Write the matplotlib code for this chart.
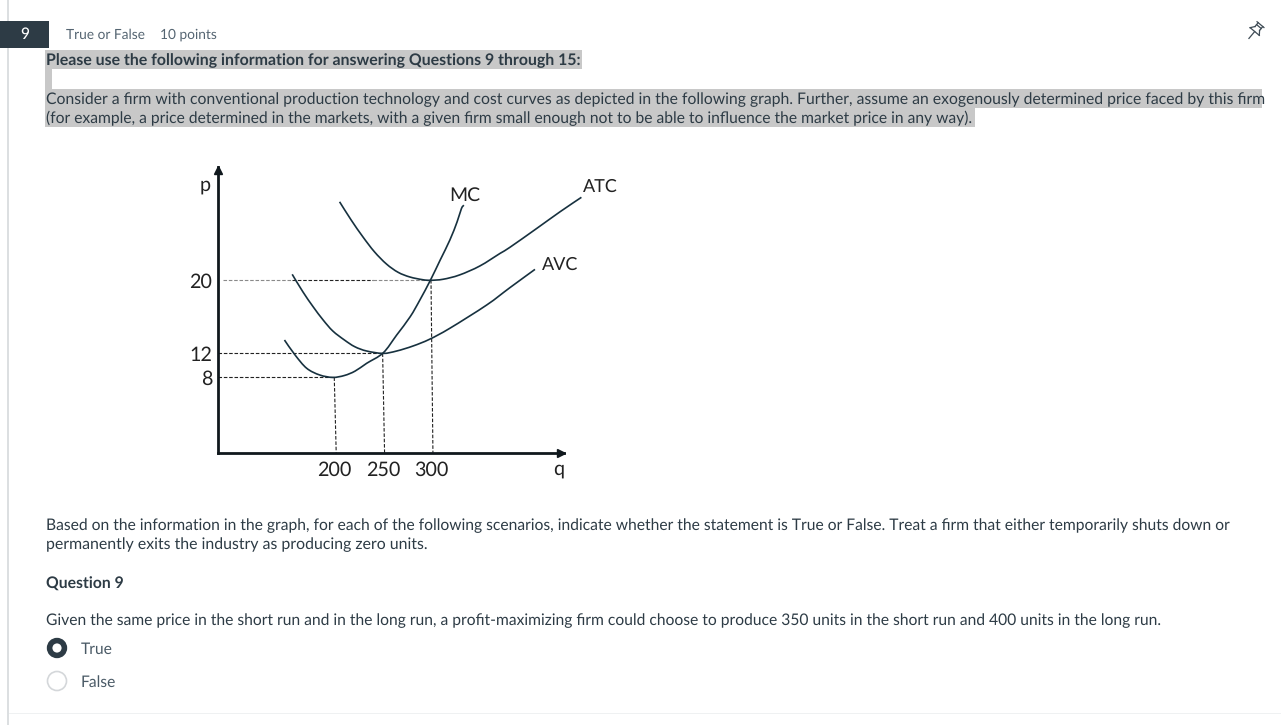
import numpy as np
import matplotlib
matplotlib.use("Agg")
import matplotlib.pyplot as plt
from matplotlib.patches import Rectangle, Circle, PathPatch
from matplotlib.path import Path
from matplotlib.transforms import IdentityTransform

# ---- chart data ----
atc_q = [205, 217, 229, 241, 253.5, 265.5, 277.6, 291, 299, 312, 329, 350, 371, 381, 409, 433, 455]
atc_p = [28.53, 26.54, 24.72, 23.08, 21.74, 20.84, 20.33, 20.03, 19.97, 20.08, 20.55, 21.53, 22.91, 23.56, 25.64, 27.45, 29.02]
avc_q = [156, 167, 177.6, 188, 198, 210, 220.7, 233, 250, 264, 281, 298, 319, 357, 381, 407]
avc_p = [20.62, 18.72, 17.09, 15.64, 14.44, 13.46, 12.73, 12.26, 12, 12.26, 12.81, 13.54, 14.74, 17.27, 19.16, 21.16]
mc_q = [148, 159, 171, 184.5, 198, 210, 221, 233, 250, 264, 278, 288, 299, 309, 319, 326.5, 331, 333.5]
mc_p = [13.46, 11.73, 9.52, 8.4, 8, 8.32, 9.05, 10.35, 12.05, 14, 16, 17.82, 20, 22.18, 24.36, 26.35, 27.8, 28.16]
q_ticks = [200, 250, 300]
p_ticks = [8, 12, 20]
q_tick_labels = ["200", "250", "300"]
p_tick_labels = ["8", "12", "20"]

# ---- page text ----
header_type = "True or False"
header_points = "10 points"
question_no = "9"
intro_bold = "Please use the following information for answering Questions 9 through 15:"
intro_1 = "Consider a ﬁrm with conventional production technology and cost curves as depicted in the following graph. Further, assume an exogenously determined price faced by this ﬁrm"
intro_2 = "(for example, a price determined in the markets, with a given ﬁrm small enough not to be able to inﬂuence the market price in any way)."
based_1 = "Based on the information in the graph, for each of the following scenarios, indicate whether the statement is True or False. Treat a ﬁrm that either temporarily shuts down or"
based_2 = "permanently exits the industry as producing zero units."
q_title = "Question 9"
q_text = "Given the same price in the short run and in the long run, a proﬁt-maximizing ﬁrm could choose to produce 350 units in the short run and 400 units in the long run."
options = ["True", "False"]

W, H = 1281, 725
plt.rcParams["font.family"] = ["Lato", "DejaVu Sans"]
plt.rcParams["text.hinting"] = "no_hinting"
fig = plt.figure(figsize=(W / 100, H / 100), dpi=100, facecolor="white")

page = fig.add_axes([0, 0, 1, 1])
page.set_xlim(0, W)
page.set_ylim(H, 0)
page.axis("off")

DARK = "#2d3b45"
HL = "#c8c8c8"
FS = 11.25

# frame rules
page.add_patch(Rectangle((7, 0), 2, H, fc="#dcdfe1", ec="none"))
page.add_patch(Rectangle((9, 713), W - 9, 1, fc="#eff1f2", ec="none"))
# header
page.add_patch(Rectangle((0, 21), 49, 27, fc=DARK, ec="none"))
page.text(25, 39, question_no, color="white", fontsize=11.2, ha="center", va="baseline", fontweight="medium")
page.text(65.5, 38.5, header_type, color="#556572", fontsize=9.9, va="baseline")
page.text(160, 38.5, header_points, color="#556572", fontsize=9.9, va="baseline")
# highlights
for x, y, w, h in [(45, 50, 537, 19), (45, 69, 7, 20), (45, 89, 1217, 19), (45, 108, 930, 19)]:
    page.add_patch(Rectangle((x, y), w, h, fc=HL, ec="none"))
# body
page.text(46, 65, intro_bold, color=DARK, fontsize=11.43, fontweight="bold", va="baseline")
page.text(46, 104, intro_1, color=DARK, fontsize=11.31, va="baseline")
page.text(46, 123, intro_2, color=DARK, fontsize=11.26, va="baseline")
page.text(46, 530, based_1, color=DARK, fontsize=11.29, va="baseline")
page.text(46, 549, based_2, color=DARK, fontsize=11.4, va="baseline")
page.text(46, 588.5, q_title, color=DARK, fontsize=11.3, fontweight="bold", va="baseline")
page.text(46, 625.5, q_text, color=DARK, fontsize=11.26, va="baseline")
page.text(81, 654, options[0], color="#4a5a66", fontsize=FS, va="baseline")
page.text(81, 687, options[1], color="#4a5a66", fontsize=FS, va="baseline")
# radios
page.add_patch(Circle((57, 648), 7.4, fc="white", ec=DARK, lw=4.0))
page.add_patch(Circle((57, 681), 9.5, fc="white", ec="#d4d7da", lw=1.2))
# pin icon
pin_ang = np.deg2rad(40)
def pin(u, v):
    return (1256 + u * np.cos(pin_ang) - v * np.sin(pin_ang),
            30 + u * np.sin(pin_ang) + v * np.cos(pin_ang))
for seg in [[(-4.5, -7), (4.5, -7)], [(-3, -7), (-3, -2)], [(3, -7), (3, -2)], [(-3, -2), (-6, 2)],
            [(3, -2), (6, 2)], [(-6, 2), (6, 2)], [(0, 2), (0, 11)], [(-3, -4.5), (3, -4.5)]]:
    xs, ys = zip(*[pin(*s) for s in seg])
    page.plot(xs, ys, color="#3f4c56", lw=0.9)

# ---- chart axes ----
L, R, B, T = 218, 564, 452.7, 166.7
ax = fig.add_axes([L / W, 1 - B / H, (R - L) / W, (B - T) / H])
ax.patch.set_alpha(0)

# the drawn price axis is not to scale; this scale reproduces its spacing
p_knots = [0, 8, 12, 20, 32.36]
pos_knots = [0, 75.3, 99.3, 172.7, 286]
ax.set_yscale("function", functions=(lambda v: np.interp(v, p_knots, pos_knots),
                                     lambda v: np.interp(v, pos_knots, p_knots)))
ax.set_xlim(79.3, 437)
ax.set_ylim(0, 32.36)

CURVE = "#17313f"


def smooth_curve(qs, ps):
    """Draw a smooth stroke through the read points (Bezier segments in display space)."""
    pts = ax.transData.transform(np.column_stack([qs, ps]))
    ext = np.vstack([pts[0], pts, pts[-1]])
    verts, codes = [pts[0]], [Path.MOVETO]
    for i in range(1, len(ext) - 2):
        p0, p1, p2, p3 = ext[i - 1], ext[i], ext[i + 1], ext[i + 2]
        verts += [p1 + (p2 - p0) / 6, p2 - (p3 - p1) / 6, p2]
        codes += [Path.CURVE4] * 3
    ax.add_patch(PathPatch(Path(verts, codes), fc="none", ec=CURVE, lw=1.2,
                           transform=IdentityTransform(), clip_on=False, zorder=3))


for qs, ps in [(atc_q, atc_p), (avc_q, avc_p), (mc_q, mc_p)]:
    smooth_curve(qs, ps)

dash = (0, (3.2, 1.6))
for q, p in zip(q_ticks, p_ticks):
    ax.plot([q - 0.5, q + 1.5], [p, 0], color="#222222", lw=0.8, ls=dash, zorder=2)
    if p == 20:
        ax.plot([84, 156], [p, p], color="#8a8a8a", lw=0.8, ls=dash, zorder=2)
        ax.plot([156, 240], [p, p], color="#222222", lw=0.8, ls=dash, zorder=2)
        ax.plot([240, q], [p, p], color="#8a8a8a", lw=0.8, ls=dash, zorder=2)
    else:
        ax.plot([79.3, q], [p, p], color="#222222", lw=0.8, ls=dash, zorder=2)

for s in ("top", "right"):
    ax.spines[s].set_visible(False)
for s in ("left", "bottom"):
    ax.spines[s].set_linewidth(2.0)
    ax.spines[s].set_color("#10181d")
ax.plot((R - L - 3.5) / (R - L), 0, ">", transform=ax.transAxes, color="#10181d", ms=6, clip_on=False, zorder=5)
ax.plot(0, (B - T - 3.5) / (B - T), "^", transform=ax.transAxes, color="#10181d", ms=6, clip_on=False, zorder=5)

ax.set_xticks(q_ticks, q_tick_labels)
ax.set_yticks(p_ticks, p_tick_labels)
ax.minorticks_off()
ax.tick_params(axis="both", length=0, labelsize=14.2, labelcolor="#222222")
ax.tick_params(axis="x", pad=6)
ax.tick_params(axis="y", pad=4)

label_kw = dict(color="#222222", ha="center", va="center")
page.text(205, 185, "p", fontsize=14.2, **label_kw)
page.text(559, 469, "q", fontsize=14.2, **label_kw)
page.text(465, 195, "MC", fontsize=14, **label_kw)
page.text(600, 187, "ATC", fontsize=13, **label_kw)
page.text(560, 265, "AVC", fontsize=13, **label_kw)

fig.savefig("out.png", dpi=100, facecolor="white")
